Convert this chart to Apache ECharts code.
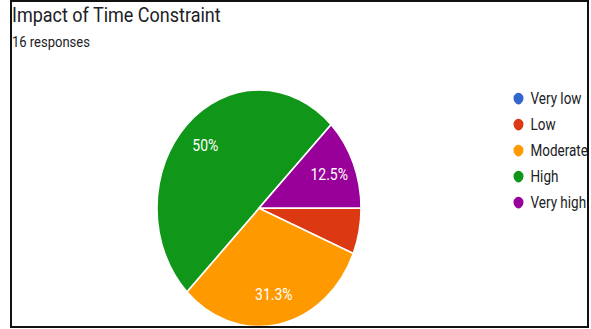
<!DOCTYPE html>
<html>
<head>
<meta charset="utf-8">
<script src="https://cdn.jsdelivr.net/npm/echarts@6/dist/echarts.min.js"></script>
<style>
  html, body { margin: 0; padding: 0; background: #fff; }
  #wrap { position: relative; width: 591px; height: 329px; overflow: hidden; background: #fff; }
  #chart { position: absolute; left: 0; top: 0; width: 591px; height: 284px; transform: scaleY(1.16); transform-origin: 0 0; }
  #frame { position: absolute; left: 10px; top: 0px; width: 575px; height: 324px; border: 2.5px solid #111; pointer-events: none; }
  #mask { position: absolute; left: 588px; top: 0; width: 3px; height: 329px; background: #fff; }
</style>
</head>
<body>
<div id="wrap">
  <div id="chart"></div>
  <div id="mask"></div>
  <div id="frame"></div>
</div>
<script>
const titleText = 'Impact of Time Constraint';
const subtitleText = '16 responses';
const categories = ['Very low', 'Low', 'Moderate', 'High', 'Very high'];
const counts = [0, 1, 5, 8, 2];
const colors = ['#3366cc', '#dc3912', '#ff9900', '#109618', '#990099'];

const total = counts.reduce((a, b) => a + b, 0);
const pieData = categories.map((name, i) => ({ name, value: counts[i], itemStyle: { color: colors[i] } }));

const chart = echarts.init(document.getElementById('chart'), null, { renderer: 'svg' });
chart.setOption({
  animation: false,
  title: [
    { text: titleText, left: 7, top: -1, textStyle: { fontFamily: 'Roboto', fontSize: 18, fontWeight: 'normal', color: '#202124' } },
    { text: subtitleText, left: 7, top: 24, textStyle: { fontFamily: 'Roboto', fontSize: 13, fontWeight: 'normal', color: '#202124' } }
  ],
  legend: {
    orient: 'vertical',
    left: 506.5,
    top: 73,
    icon: 'circle',
    itemWidth: 12,
    itemHeight: 12,
    itemGap: 8.4,
    data: categories,
    textStyle: { fontFamily: 'Roboto', fontSize: 13.5, color: '#202124', padding: [0, 0, 0, 1] }
  },
  series: [
    {
      type: 'pie',
      center: [259, 179.5],
      radius: [0, 102],
      startAngle: 0,
      clockwise: true,
      data: pieData,
      label: { show: false },
      labelLine: { show: false },
      itemStyle: { borderColor: '#fff', borderWidth: 1.5 },
      emphasis: { disabled: true }
    },
    {
      type: 'pie',
      center: [259, 179.5],
      radius: [44, 102],
      startAngle: 0,
      clockwise: true,
      silent: true,
      data: categories.map((name, i) => ({ name, value: counts[i] })),
      itemStyle: { color: 'rgba(0,0,0,0)', borderWidth: 0 },
      label: {
        show: true,
        position: 'inside',
        color: '#ffffff',
        fontFamily: 'Roboto',
        fontSize: 14,
        formatter: p => {
          const pct = p.value / total * 100;
          return pct < 10 ? '' : parseFloat(pct.toFixed(1)) + '%';
        }
      },
      labelLine: { show: false },
      emphasis: { disabled: true }
    }
  ]
});
</script>
</body>
</html>
